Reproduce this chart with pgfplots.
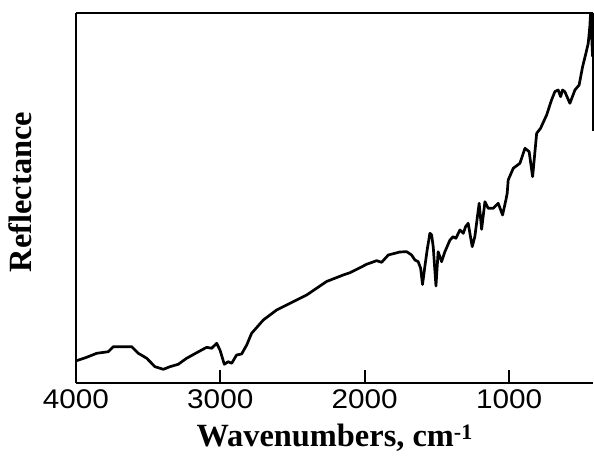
\documentclass[border=0pt]{standalone}
\usepackage{fontspec}
\setmainfont{Liberation Serif}
\newfontfamily\tickfont[FakeStretch=1.1]{Liberation Sans}
\usepackage{pgfplots}
\pgfplotsset{compat=1.18}
\pgfplotstableread{
w v
4000 22
3925 25.7
3855 29.7
3775 31.3
3740 36.3
3613 36.3
3567 29.7
3509 24.7
3452 16.3
3394 13.7
3348 16.3
3291 18.7
3233 24.7
3163 30.3
3094 35.7
3060 34.7
3025 39.7
3002 33
2972 18.7
2945 21.3
2921 19.7
2887 28
2852 29
2817 38
2783 49.7
2702 63
2610 73
2495 81.3
2402 88
2264 101.5
2149 108
2102 110.3
2033 115.3
1987 118.7
1918 122.3
1883 120.7
1837 128
1757 131
1710 131.3
1676 128
1653 123
1630 121.3
1613 114.7
1600 98.5
1584 116.3
1568 133
1549 149.7
1537 148
1526 136.3
1507 97
1492 131.3
1468 121.3
1445 131.3
1410 143
1388 146.3
1369 144.7
1341 153
1318 149.7
1302 156.3
1284 159.7
1256 136.3
1238 146.3
1208 179.7
1191 153.7
1168 181.3
1145 174.7
1111 174.7
1076 179.7
1046 168
1023 183
1014 189.7
1007 203
972 214.7
926 219.7
891 234.7
862 231.3
838 206.3
810 249.7
783 254.7
741 268
707 283
684 291.3
661 293
644 286.3
631 293
615 291.3
580 279.7
545 293
516 298
492 316.3
469 329.7
453 339.7
442 356.3
437 369.7
430 349.7
423 326.3
}\spectrum
\begin{document}
\begin{tikzpicture}
\useasboundingbox (0,0) rectangle (297pt,229pt);
\begin{axis}[
  name=ax,
  at={(37.9pt,37.5pt)}, anchor=south west,
  scale only axis,
  width=258.6pt, height=185pt,
  x dir=reverse,
  xmin=420, xmax=4000,
  ymin=0, ymax=370,
  axis x line*=box,
  axis y line*=left,
  axis line style={-, line width=1pt},
  xtick={1000,2000,3000,4000},
  xtick pos=bottom,
  tick align=inside,
  major tick length=6.5pt,
  tick style={line width=0.9pt, black},
  ytick=\empty,
  /pgf/number format/assume math mode=true,
  /pgf/number format/set thousands separator={},
  xticklabel style={font=\tickfont\fontsize{13.5}{16}\selectfont, yshift=0pt},
  xlabel={Wavenumbers, cm\raisebox{0.45ex}{\fontsize{11}{12}\selectfont -1}},
  ylabel={Reflectance},
  label style={font=\bfseries\fontsize{16.2}{19}\selectfont},
  xlabel style={at={(axis description cs:0.5,0)}, anchor=north, yshift=-17pt},
  ylabel style={at={(axis description cs:-0.072,0.516)}, anchor=south},
  clip=false,
]
\addplot[black, line width=1.35pt, line join=round] table[x=w, y=v] {\spectrum};
\draw[line width=1pt] (rel axis cs:1,1) -- (rel axis cs:1,0.68);
\end{axis}
\end{tikzpicture}
\end{document}
